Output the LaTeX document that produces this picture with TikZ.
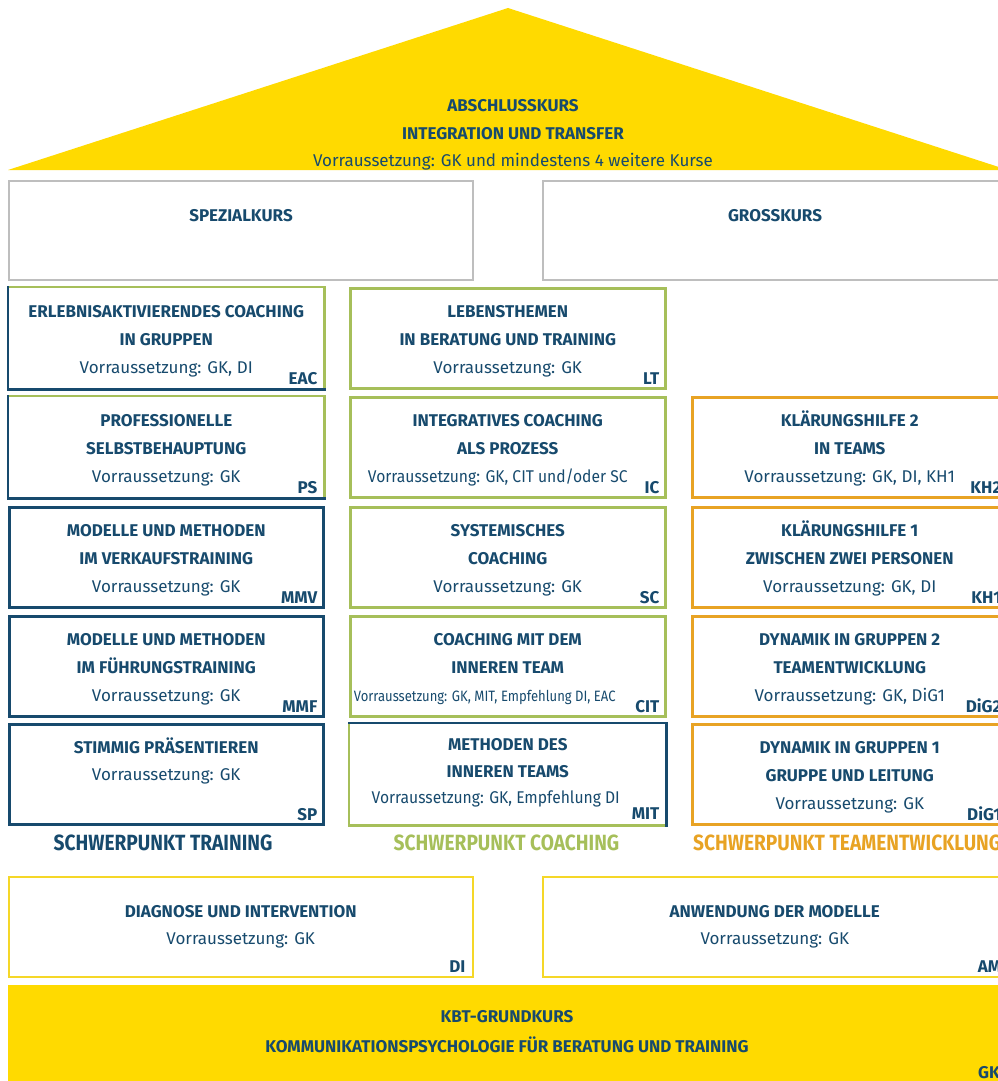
\documentclass[tikz,border=0pt]{standalone}
\usepackage{fontspec}
\setmainfont{Fira Sans}
\newfontfamily\condfont{Fira Sans}[FakeStretch=0.87]
\newfontfamily\semicondfont{Fira Sans}[FakeStretch=0.92]
\definecolor{navy}{RGB}{23,74,109}
\definecolor{grn}{RGB}{166,191,90}
\definecolor{org}{RGB}{232,163,36}
\definecolor{ylw}{RGB}{255,218,0}
\definecolor{ylwline}{RGB}{245,215,40}
\definecolor{gry}{RGB}{190,190,190}
\tikzset{
  cbox/.style={draw, line width=2.5pt, inner sep=0, anchor=north west, minimum width=314pt, minimum height=100pt},
  trn/.style={draw=navy},
  cch/.style={draw=grn},
  tem/.style={draw=org},
  split/.style={draw=none},
  ttl/.style={font=\fontsize{17}{20}\selectfont\bfseries, text=navy, anchor=base, inner sep=0},
  pre/.style={font=\fontsize{17}{20}\selectfont, text=navy, anchor=base, inner sep=0},
  code/.style={font=\fontsize{17}{20}\selectfont\bfseries, text=navy, anchor=base east, inner sep=0},
  head/.style={font=\condfont\fontsize{22}{24}\selectfont\bfseries, anchor=base, inner sep=0},
  edge/.style={line width=2.5pt, line cap=rect},
}
\newcommand\course[8]{%
  \node[cbox,#4] (#1) at (#2,#3) {};
  \node[ttl] (#1-a) at ([yshift=-30pt]#1.north) {#5};
  \node[ttl] (#1-b) at ([yshift=-58pt]#1.north) {#6};
  \node[pre] (#1-p) at ([yshift=-86pt]#1.north) {#7};
  \node[code] (#1-c) at ([xshift=-7pt,yshift=5pt]#1.south east) {#8};
}
\begin{document}
\begin{tikzpicture}[x=1pt,y=-1pt]
\useasboundingbox (0,0) rectangle (998,1081);
\clip (0,0) rectangle (998,1081);
% roof
\fill[ylw] (8,170) -- (508,8) -- (1008,170) -- cycle;
\node[ttl] (roof-a) at (513,111) {ABSCHLUSSKURS};
\node[ttl] (roof-b) at (513,139) {INTEGRATION UND TRANSFER};
\node[pre] (roof-p) at (513,166) {Vorraussetzung: GK und mindestens 4 weitere Kurse};
% spezial / gross
\node[cbox, draw=gry, line width=2pt, minimum width=464pt, minimum height=99pt] (spez) at (8,180) {};
\node[ttl] (spez-t) at ([yshift=-41pt]spez.north) {SPEZIALKURS};
\node[cbox, draw=gry, line width=2pt, minimum width=464pt, minimum height=99pt] (gross) at (542,180) {};
\node[ttl] (gross-t) at ([yshift=-41pt]gross.north) {GROSSKURS};
% left column
\course{eac}{8}{287}{split}{ERLEBNISAKTIVIERENDES COACHING}{IN GRUPPEN}{Vorraussetzung: GK, DI}{EAC}
\draw[edge, grn] (eac.north west) -- (eac.north east) -- (eac.south east);
\draw[edge, navy] (eac.north west) -- (eac.south west) -- (eac.south east);
\course{ps}{8}{396}{split}{PROFESSIONELLE}{SELBSTBEHAUPTUNG}{Vorraussetzung: GK}{PS}
\draw[edge, grn] (ps.north west) -- (ps.north east) -- (ps.south east);
\draw[edge, navy] (ps.north west) -- (ps.south west) -- (ps.south east);
\course{mmv}{8}{506}{trn}{MODELLE UND METHODEN}{IM VERKAUFSTRAINING}{Vorraussetzung: GK}{MMV}
\course{mmf}{8}{615}{trn}{MODELLE UND METHODEN}{IM FÜHRUNGSTRAINING}{Vorraussetzung: GK}{MMF}
\node[cbox,trn] (sp) at (8,723) {};
\node[ttl] (sp-a) at ([yshift=-30pt]sp.north) {STIMMIG PRÄSENTIEREN};
\node[pre] (sp-p) at ([yshift=-57pt]sp.north) {Vorraussetzung: GK};
\node[code] (sp-c) at ([xshift=-7pt,yshift=5pt]sp.south east) {SP};
% middle column
\course{lt}{349}{287}{cch, minimum width=315pt}{LEBENSTHEMEN}{IN BERATUNG UND TRAINING}{Vorraussetzung: GK}{LT}
\course{ic}{349}{396}{cch, minimum width=315pt}{INTEGRATIVES COACHING}{ALS PROZESS}{}{IC}
\node[pre] (ic-p2) at ([xshift=-10pt,yshift=-86pt]ic.north) {\semicondfont Vorraussetzung: GK, CIT und/oder SC};
\course{sc}{349}{506}{cch, minimum width=315pt}{SYSTEMISCHES}{COACHING}{Vorraussetzung: GK}{SC}
\course{cit}{349}{615}{cch, minimum width=315pt}{COACHING MIT DEM}{INNEREN TEAM}{}{CIT}
\node[pre] (cit-p2) at ([xshift=-23pt,yshift=-86pt]cit.north) {\condfont\fontsize{15}{17}\selectfont Vorraussetzung: GK, MIT, Empfehlung DI, EAC};
\node[cbox, split, minimum width=315pt] (mit) at (349,723) {};
\draw[edge, grn] (mit.north west) -- (mit.south west) -- (mit.south east);
\draw[edge, navy] (mit.north west) -- (mit.north east) -- (mit.south east);
\node[ttl] (mit-a) at ([yshift=-27pt]mit.north) {METHODEN DES};
\node[ttl] (mit-b) at ([yshift=-54pt]mit.north) {INNEREN TEAMS};
\node[pre] (mit-p) at ([xshift=-12pt,yshift=-80pt]mit.north) {\semicondfont Vorraussetzung: GK, Empfehlung DI};
\node[code] (mit-c) at ([xshift=-7pt,yshift=6pt]mit.south east) {MIT};
% right column
\course{kh2}{691}{396}{tem, minimum width=315pt}{KLÄRUNGSHILFE 2}{IN TEAMS}{Vorraussetzung: GK, DI, KH1}{KH2}
\course{kh1}{691}{506}{tem, minimum width=315pt}{KLÄRUNGSHILFE 1}{ZWISCHEN ZWEI PERSONEN}{Vorraussetzung: GK, DI}{KH1}
\course{dig2}{691}{615}{tem, minimum width=315pt}{DYNAMIK IN GRUPPEN 2}{TEAMENTWICKLUNG}{Vorraussetzung: GK, DiG1}{DiG2}
\course{dig1}{691}{723}{tem, minimum width=315pt}{DYNAMIK IN GRUPPEN 1}{GRUPPE UND LEITUNG}{Vorraussetzung: GK}{DiG1}
% headings
\node[head, text=navy] (h-trn) at (163,850) {SCHWERPUNKT TRAINING};
\node[head, text=grn] (h-cch) at (506.5,850) {SCHWERPUNKT COACHING};
\node[head, text=org, anchor=base west] (h-tem) at (693,850) {SCHWERPUNKT TEAMENTWICKLUNG};
% DI / AM
\node[cbox, draw=ylwline, line width=1.5pt, minimum width=464pt] (di) at (8,876) {};
\node[ttl] (di-a) at ([yshift=-41pt]di.north) {DIAGNOSE UND INTERVENTION};
\node[pre] (di-p) at ([yshift=-68pt]di.north) {Vorraussetzung: GK};
\node[code] (di-c) at ([xshift=-8pt,yshift=5pt]di.south east) {DI};
\node[cbox, draw=ylwline, line width=1.5pt, minimum width=464pt] (am) at (542,876) {};
\node[ttl] (am-a) at ([yshift=-41pt]am.north) {ANWENDUNG DER MODELLE};
\node[pre] (am-p) at ([yshift=-68pt]am.north) {Vorraussetzung: GK};
\node[code] (am-c) at ([xshift=-6pt,yshift=5pt]am.south east) {AM};
% GK band
\node[fill=ylw, inner sep=0, anchor=north west, minimum width=1000pt, minimum height=100pt] (gk) at (8,985) {};
\node[ttl] (gk-a) at (507,1022) {KBT-GRUNDKURS};
\node[ttl] (gk-b) at (507,1052) {KOMMUNIKATIONSPSYCHOLOGIE FÜR BERATUNG UND TRAINING};
\node[code] (gk-c) at (1000,1078) {GK};
\end{tikzpicture}
\end{document}
